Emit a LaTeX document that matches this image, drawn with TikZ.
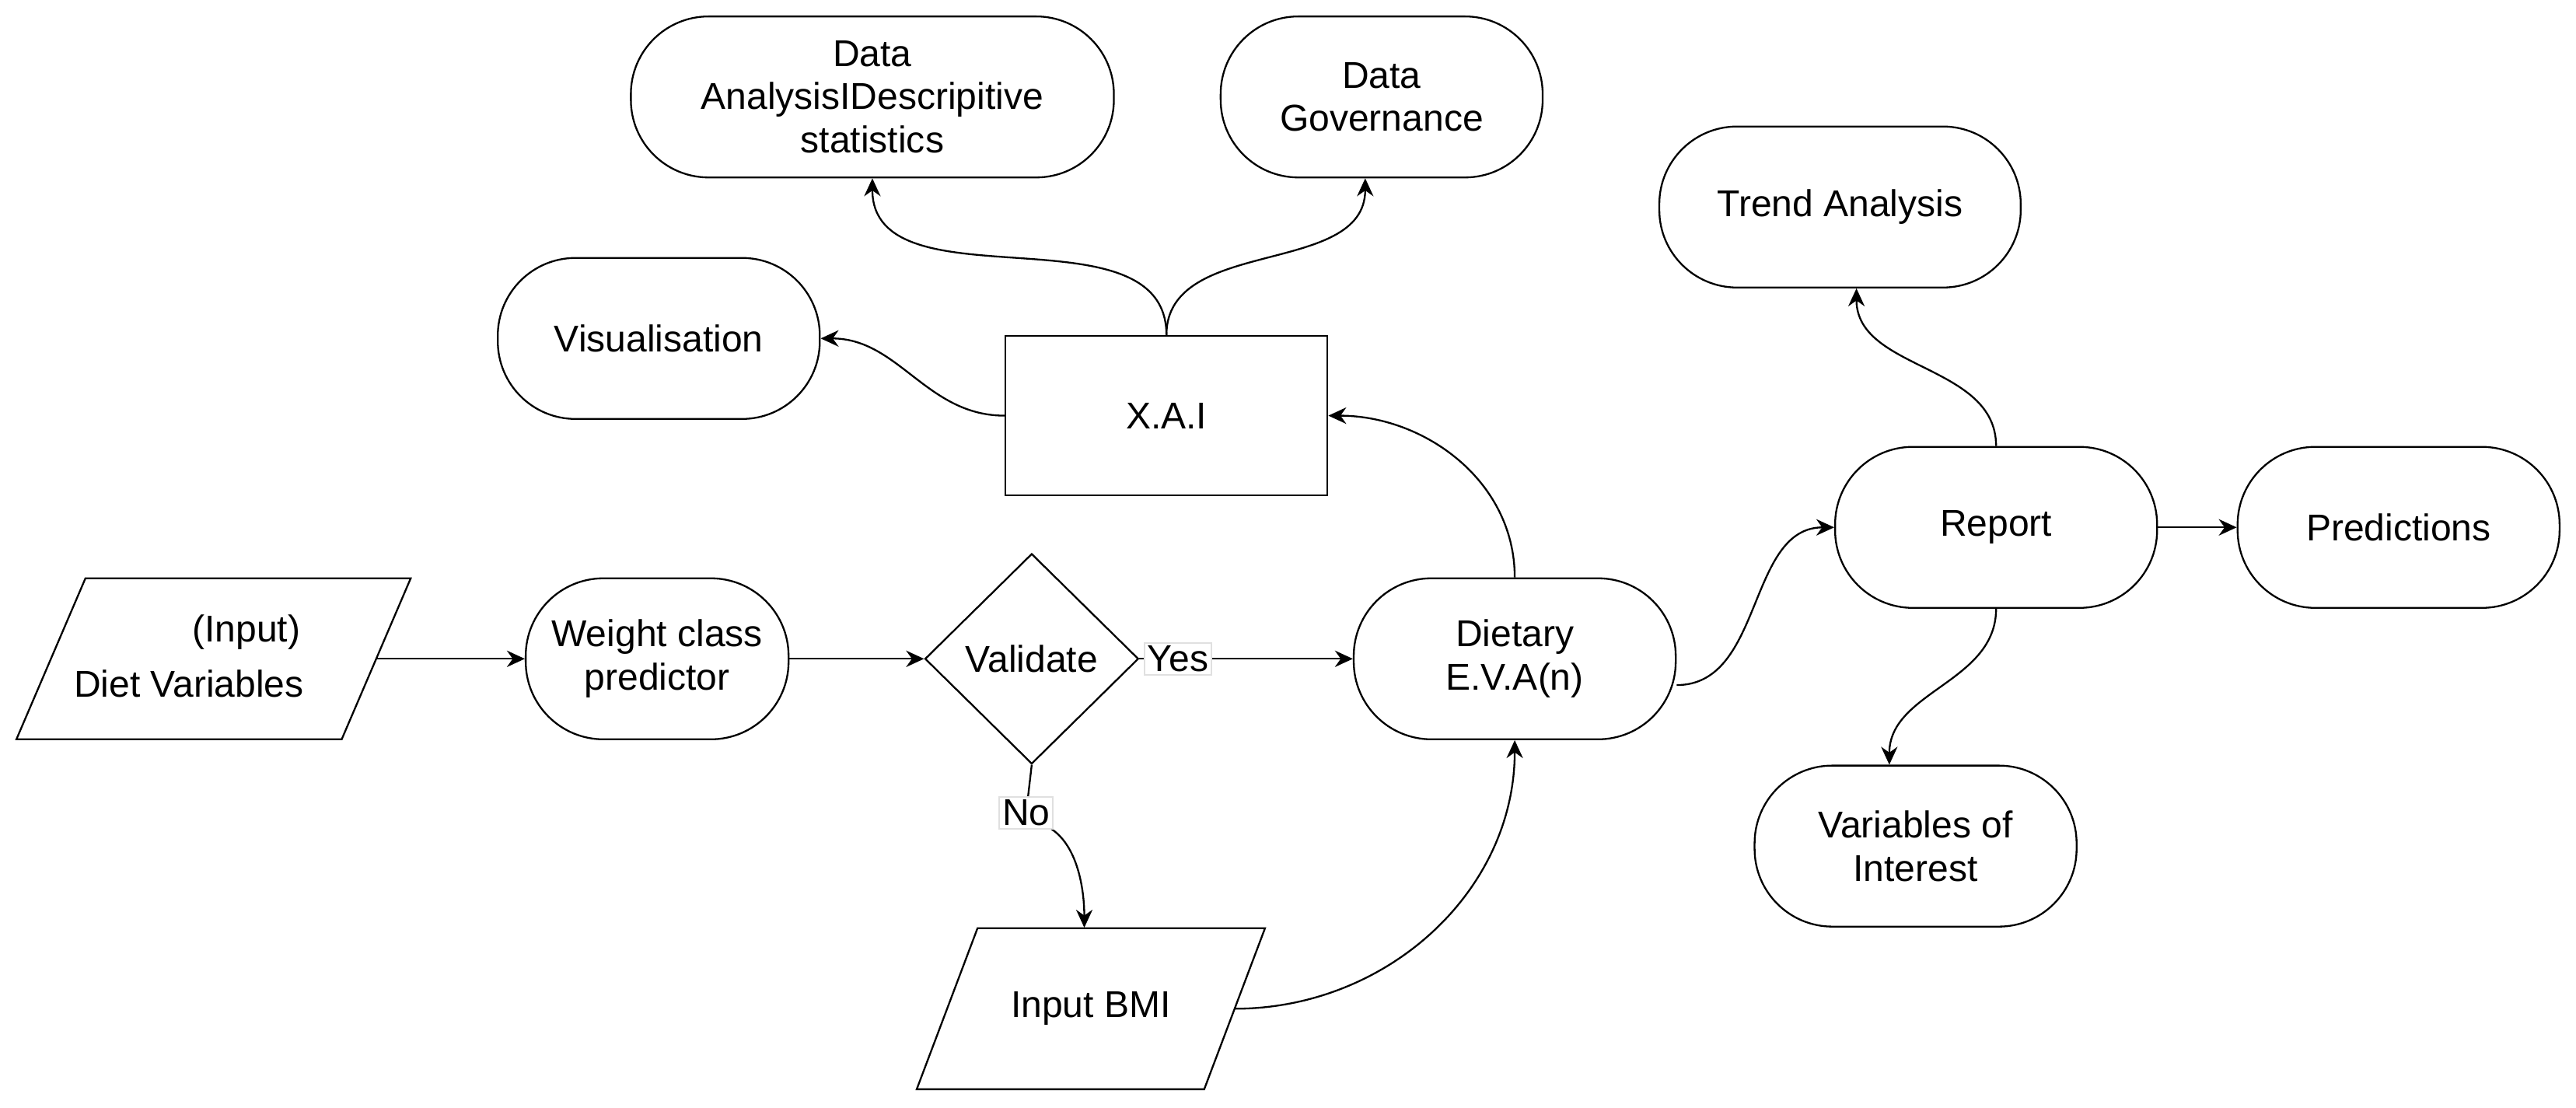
\documentclass[tikz,border=0pt]{standalone}
\usepackage{fontspec}
\setmainfont{Liberation Sans}
\usetikzlibrary{shapes.geometric,arrows.meta}
\begin{document}
\begin{tikzpicture}[x=0.55pt,y=-0.55pt,
  every node/.style={font=\fontsize{12.5}{14.5}\selectfont, align=center},
  term/.style={draw, line width=0.6pt, rounded corners=26pt, minimum width=107.8pt, minimum height=53.9pt, inner sep=1pt},
  box/.style={draw, line width=0.6pt, minimum width=107.8pt, minimum height=53.4pt},
  ghost/.style={minimum width=108.9pt, minimum height=53.9pt, inner sep=0pt},
  dec/.style={draw, line width=0.6pt, diamond, aspect=1, minimum width=71.5pt, minimum height=70.4pt, inner sep=0pt},
  arr/.style={-{Stealth[length=6pt,width=5.5pt]}, line width=0.6pt},
  lab/.style={fill=white, draw=black!12, inner sep=1pt}]
\useasboundingbox (0,0) rectangle (1568,674);
% parallelograms
\draw[line width=0.6pt] (52,352) -- (250,352) -- (208,450) -- (10,450) -- cycle;
\node[ghost] (in) at (130,401) {};
\node at (150,385) {(Input)};
\node at (115,416) {Diet Variables};
\draw[line width=0.6pt] (595,565) -- (770,565) -- (733,663) -- (558,663) -- cycle;
\node[ghost, minimum width=96pt] (bmi) at (664,614) {Input BMI};
% nodes
\node[term, minimum width=88pt] (wc) at (400,401) {Weight class\\predictor};
\node[dec] (val) at (628,401) {Validate};
\node[term] (diet) at (922,401) {Dietary\\E.V.A(n)};
\node[box] (xai) at (710,253) {X.A.I};
\node[term] (vis) at (401,206) {Visualisation};
\node[term, minimum width=161.7pt] (da) at (531,59) {Data\\AnalysisIDescripitive\\statistics};
\node[term] (dg) at (841,59) {Data\\Governance};
\node[term, minimum width=121pt] (tr) at (1120,126) {Trend Analysis};
\node[term] (rep) at (1215,321) {Report};
\node[term] (pred) at (1460,321) {Predictions};
\node[term] (voi) at (1166,515) {Variables of\\Interest};
% edges
\draw[arr] (in.east) -- (wc.west);
\draw[arr] (wc.east) -- (val.west);
\draw[arr] (val.east) -- node[lab, pos=0.18] {Yes} (diet.west);
\draw[arr] (val.south) -- node[lab, pos=0.85] {No} ([xshift=-4*0.55pt]val.south |- 0,500) to[out=0,in=90] ([xshift=-4*0.55pt]bmi.north);
\draw[arr] (bmi.east) to[out=0,in=-90] (diet.south);
\draw[arr] (diet.north) to[out=90,in=0] (xai.east);
\draw[arr] (xai.west) to[out=180,in=0] (vis.east);
\draw[arr] (xai.north) to[out=90,in=-90] (da.south);
\draw[arr] (xai.north) to[out=90,in=-90] ([xshift=-10*0.55pt]dg.south);
\draw[arr] ([yshift=-16*0.55pt]diet.east) to[out=0,in=180] (rep.west);
\draw[arr] (rep.north) to[out=90,in=-90] ([xshift=10*0.55pt]tr.south);
\draw[arr] (rep.south) to[out=-90,in=90] ([xshift=-16*0.55pt]voi.north);
\draw[arr] (rep.east) -- (pred.west);
\end{tikzpicture}
\end{document}
